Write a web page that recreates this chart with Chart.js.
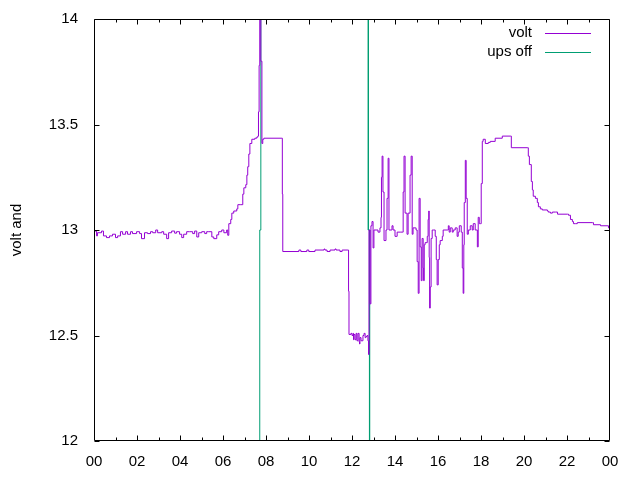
<!DOCTYPE html>
<html><head><meta charset="utf-8">
<script src="https://cdn.jsdelivr.net/npm/chart.js@4/dist/chart.umd.min.js"></script>
<style>html,body{margin:0;padding:0;background:#fff}canvas{display:block}</style>
</head><body>
<canvas id="c" width="640" height="480"></canvas>
<script>
// ---- data (hours of day, volts) ----
const hours = [0.00,0.12,0.16,0.35,0.44,0.58,0.72,0.86,1.00,1.10,1.23,1.33,1.47,1.56,1.70,1.79,1.98,2.12,2.21,2.35,2.49,2.63,2.73,2.87,2.96,3.15,3.24,3.38,3.47,3.61,3.75,3.84,3.98,4.08,4.17,4.31,4.45,4.59,4.68,4.78,4.87,5.01,5.15,5.24,5.34,5.48,5.57,5.71,5.80,5.94,6.04,6.17,6.22,
6.27,6.36,6.41,6.50,6.64,6.69,6.83,6.92,6.97,7.06,7.11,7.15,7.20,7.25,7.34,7.48,7.57,7.62,7.65,7.68,7.71,7.76,7.81,7.85,7.90,8.74,8.76,
8.78,9.53,9.62,9.90,9.99,10.28,10.70,10.74,10.84,10.98,11.21,11.26,11.44,11.54,11.81,11.84,
11.86,11.95,12.00,12.05,12.07,12.09,12.14,12.19,12.23,12.28,12.33,12.35,12.37,12.42,12.51,12.56,12.61,12.65,12.70,12.74,12.77,
12.79,12.84,12.88,12.93,12.98,13.02,13.16,13.21,13.30,13.35,13.37,13.40,13.44,13.49,13.58,13.63,13.68,13.72,13.82,13.86,13.91,14.00,14.10,14.24,14.33,14.38,14.42,14.47,14.56,14.61,14.70,14.75,14.80,14.84,14.94,14.98,
15.03,15.08,15.12,15.17,15.22,15.26,15.31,15.33,15.36,15.40,15.50,15.54,15.57,15.59,15.61,15.64,15.68,15.73,15.78,15.87,15.92,15.96,16.01,16.06,16.10,16.20,16.24,16.43,16.48,16.52,16.57,16.66,16.71,16.80,16.89,16.94,16.99,
17.08,17.13,17.17,17.20,17.22,17.27,17.31,17.36,17.41,17.50,17.59,17.64,17.73,17.83,17.87,17.92,17.97,18.01,18.06,18.10,18.20,18.34,18.43,18.66,18.99,19.36,19.41,20.15,
20.20,20.25,20.34,20.39,20.43,20.53,20.62,20.67,20.76,20.85,21.09,21.13,21.23,21.32,21.46,21.56,22.02,22.07,22.16,22.25,22.30,22.39,22.48,23.19,23.23,23.56,23.93,24.00];
const volt = [12.995,12.972,12.987,12.995,12.972,12.964,12.972,12.98,12.964,12.972,12.992,12.98,12.992,12.98,12.992,12.983,12.992,12.983,12.959,12.987,12.983,12.992,12.987,13.0,12.987,12.992,12.98,12.959,12.987,12.995,12.985,12.992,12.98,12.964,12.98,12.992,12.992,12.983,12.995,12.967,12.987,12.992,12.983,12.992,12.992,12.967,12.959,12.977,12.992,13.0,12.987,13.0,12.975,
13.03,13.05,13.08,13.09,13.10,13.12,13.12,13.17,13.20,13.215,13.26,13.30,13.36,13.41,13.43,13.435,13.44,13.445,13.56,13.78,14.3,13.8,13.41,13.43,13.435,13.435,13.17,
12.898,12.905,12.898,12.905,12.898,12.905,12.91,12.905,12.898,12.905,12.91,12.905,12.898,12.905,12.905,12.71,
12.505,12.51,12.50,12.51,12.48,12.505,12.48,12.51,12.475,12.51,12.47,12.46,12.49,12.475,12.50,12.51,12.49,12.495,12.50,12.475,12.41,
13.0,12.65,13.02,13.04,12.915,13.0,13.0,12.99,13.01,13.06,13.25,13.35,13.18,12.95,13.0,13.15,13.34,13.0,13.0,13.02,13.0,12.97,12.99,12.99,12.99,13.18,13.35,13.08,12.98,13.08,13.26,13.35,12.98,13.01,13.01,13.0,
12.85,12.70,13.15,12.92,12.76,12.96,12.82,12.76,12.93,12.94,12.97,13.05,13.09,12.87,12.63,12.73,12.96,13.0,13.0,12.97,12.86,12.74,12.86,12.93,12.95,12.97,13.0,13.0,13.02,12.99,13.01,12.99,13.0,13.01,12.97,12.99,13.02,
12.99,12.82,12.70,12.93,13.13,13.33,13.15,12.98,13.0,13.02,13.0,13.03,13.0,12.92,13.06,13.03,13.03,13.22,13.42,13.43,13.41,13.415,13.42,13.435,13.445,13.445,13.39,13.39,
13.35,13.31,13.23,13.19,13.16,13.15,13.13,13.11,13.10,13.095,13.09,13.085,13.08,13.085,13.085,13.075,13.075,13.07,13.05,13.04,13.03,13.03,13.035,13.035,13.025,13.02,13.01,13.01];
const upsHours = [0, 7.70, 7.71, 7.76, 7.77, 12.75, 12.76, 12.81, 12.82, 24];
const upsOff   = [0, 0, 13, 13, 30, 30, 13, 13, 0, 0];
const seriesNames = ['volt', 'ups off'];
const seriesColors = ['#9400d3', '#009e73'];
const xTickLabels = ['00','02','04','06','08','10','12','14','16','18','20','22','00'];
const yTicks = [12, 12.5, 13, 13.5, 14];
const yTickLabels = ['12', '12.5', '13', '13.5', '14'];
const yTitle = 'volt and';

const FONT = '"Liberation Sans", Arial, sans-serif';

const framePlugin = {
  id: 'frame',
  afterDatasetsDraw(chart) {
    const {ctx, chartArea: a, scales} = chart;
    const xs = scales.x, ys = scales.y;
    ctx.save();
    ctx.strokeStyle = '#000';
    ctx.lineWidth = 1;
    ctx.beginPath();
    const L = a.left + 0.5, R = a.right - 0.5, T = a.top + 0.5, B = a.bottom - 0.5;
    ctx.rect(L, T, R - L, B - T);
    for (let h = 1; h < 24; h++) {
      const px = Math.round(xs.getPixelForValue(h)) + 0.5;
      const len = (h % 2 === 0) ? 5 : 3;
      ctx.moveTo(px, B); ctx.lineTo(px, B - len);
      ctx.moveTo(px, T); ctx.lineTo(px, T + len);
    }
    yTicks.forEach(v => {
      const py = Math.round(ys.getPixelForValue(v)) + 0.5;
      ctx.moveTo(L, py); ctx.lineTo(L + 5, py);
      ctx.moveTo(R, py); ctx.lineTo(R - 5, py);
    });
    ctx.stroke();

    // legend (inside, top right)
    ctx.font = '15px ' + FONT;
    ctx.textAlign = 'right';
    ctx.textBaseline = 'middle';
    chart.data.datasets.forEach((ds, i) => {
      const y = 33 + i * 19;
      ctx.fillStyle = '#000';
      ctx.fillText(ds.label, 532, y);
      ctx.strokeStyle = ds.borderColor;
      ctx.beginPath();
      ctx.moveTo(545, y + 0.5); ctx.lineTo(591, y + 0.5);
      ctx.stroke();
    });

    // y axis title
    ctx.fillStyle = '#000';
    ctx.translate(16.5, 230);
    ctx.rotate(-Math.PI / 2);
    ctx.textAlign = 'center';
    ctx.textBaseline = 'middle';
    ctx.fillText(yTitle, 0, 0);
    ctx.restore();
  }
};

new Chart(document.getElementById('c'), {
  type: 'line',
  data: {
    datasets: [
      {
        label: seriesNames[0],
        data: hours.map((h, i) => ({x: h, y: volt[i]})),
        borderColor: seriesColors[0],
        borderWidth: 1,
        pointRadius: 0,
        stepped: true,
        fill: false
      },
      {
        label: seriesNames[1],
        data: upsHours.map((h, i) => ({x: h, y: upsOff[i]})),
        borderColor: seriesColors[1],
        borderWidth: 1,
        pointRadius: 0,
        fill: false
      }
    ]
  },
  options: {
    responsive: false,
    animation: false,
    events: [],
    layout: {padding: {left: 0, top: 19, right: 30, bottom: 0}},
    plugins: {legend: {display: false}, tooltip: {enabled: false}, title: {display: false}},
    scales: {
      x: {
        type: 'linear', min: 0, max: 24,
        grid: {display: false, drawTicks: false},
        border: {display: false},
        ticks: {
          stepSize: 2, autoSkip: false, maxRotation: 0,
          color: '#000', font: {family: FONT, size: 15}, padding: 12,
          callback: (v) => xTickLabels[Math.round(v / 2)]
        },
        afterFit: (s) => { s.height = 39; s.paddingLeft = 0; s.paddingRight = 0; }
      },
      y: {
        type: 'linear', min: 12, max: 14,
        grid: {display: false, drawTicks: false},
        border: {display: false},
        ticks: {
          stepSize: 0.5, color: '#000', font: {family: FONT, size: 15}, padding: 16,
          callback: (v) => { const i = yTicks.indexOf(v); return i >= 0 ? yTickLabels[i] : ''; }
        },
        afterBuildTicks: (s) => { s.ticks = yTicks.map(v => ({value: v})); },
        afterFit: (s) => { s.width = 94; s.paddingTop = 0; s.paddingBottom = 0; }
      }
    }
  },
  plugins: [framePlugin]
});
</script>
</body></html>
